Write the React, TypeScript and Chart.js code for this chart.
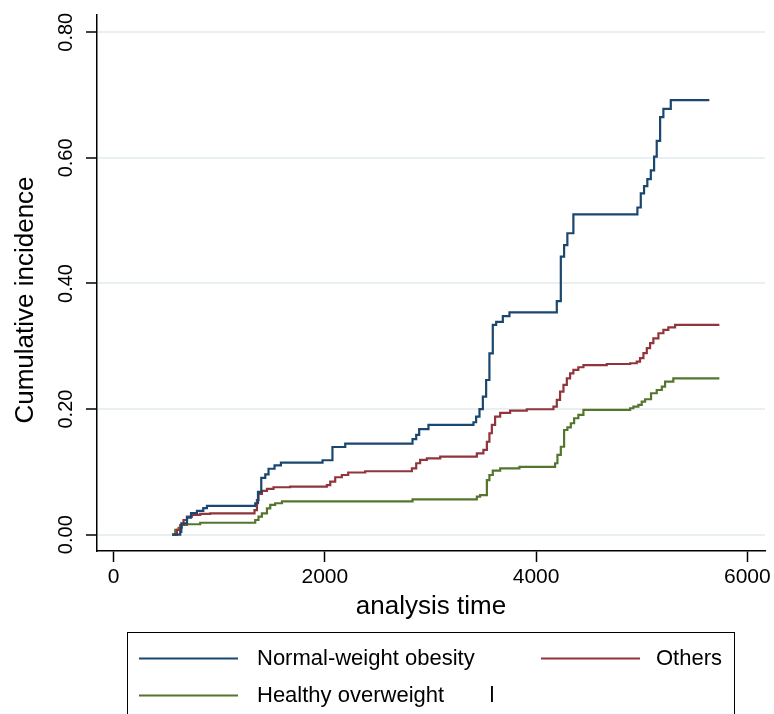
import React, { useEffect, useRef } from "react";
import { Chart, registerables } from "chart.js";

Chart.register(...registerables);

// ---- data ----
const seriesLabels = ["Normal-weight obesity", "Others", "Healthy overweight"];
const seriesColors = ["#1a476f", "#90353b", "#55752f"];

const nwoTime = [555, 631, 641, 695, 733, 789, 849, 884, 1341, 1367, 1398, 1436, 1467, 1524, 1584, 1978, 2072, 2193, 2830, 2865, 2893, 2981, 3407, 3432, 3464, 3496, 3527, 3558, 3590, 3622, 3685, 3748, 4196, 4234, 4265, 4296, 4353, 4959, 4991, 5022, 5053, 5086, 5117, 5142, 5174, 5205, 5275, 5640];
const nwoInc = [0, 0.0043, 0.018, 0.0273, 0.0343, 0.038, 0.0423, 0.0457, 0.05, 0.068, 0.0905, 0.096, 0.105, 0.1104, 0.1147, 0.1185, 0.1396, 0.1449, 0.152, 0.159, 0.168, 0.1747, 0.179, 0.188, 0.2, 0.2197, 0.2463, 0.2888, 0.334, 0.339, 0.348, 0.354, 0.372, 0.4427, 0.461, 0.48, 0.51, 0.521, 0.5436, 0.555, 0.566, 0.58, 0.602, 0.627, 0.665, 0.678, 0.692, 0.692];

const othTime = [553, 600, 631, 662, 695, 742, 820, 915, 1334, 1357, 1372, 1404, 1452, 1514, 1672, 2019, 2051, 2098, 2161, 2221, 2382, 2824, 2865, 2902, 2966, 3092, 3439, 3501, 3534, 3558, 3581, 3612, 3660, 3754, 3912, 4164, 4196, 4227, 4259, 4291, 4322, 4353, 4400, 4448, 4669, 4890, 4953, 4984, 5016, 5048, 5079, 5110, 5158, 5205, 5252, 5316, 5735];
const othInc = [0, 0.0075, 0.0154, 0.0234, 0.0287, 0.0314, 0.033, 0.034, 0.039, 0.055, 0.0648, 0.0696, 0.0728, 0.0755, 0.0764, 0.079, 0.0844, 0.0914, 0.095, 0.099, 0.101, 0.1057, 0.1137, 0.119, 0.1216, 0.1242, 0.1296, 0.1349, 0.148, 0.1615, 0.1747, 0.188, 0.194, 0.1975, 0.1997, 0.204, 0.2145, 0.2277, 0.2384, 0.249, 0.257, 0.2623, 0.2666, 0.27, 0.2718, 0.273, 0.2755, 0.281, 0.289, 0.297, 0.305, 0.3127, 0.3207, 0.326, 0.33, 0.334, 0.334];

const hovTime = [562, 584, 615, 647, 695, 820, 1341, 1372, 1404, 1452, 1483, 1530, 1594, 2830, 3439, 3470, 3534, 3558, 3590, 3660, 3842, 4180, 4202, 4234, 4265, 4296, 4329, 4360, 4400, 4448, 4890, 4921, 4968, 5000, 5032, 5088, 5142, 5190, 5221, 5299, 5735];
const hovInc = [0, 0.0075, 0.011, 0.0154, 0.0166, 0.019, 0.0234, 0.0287, 0.034, 0.042, 0.0473, 0.05, 0.053, 0.0563, 0.0605, 0.063, 0.087, 0.095, 0.102, 0.1057, 0.108, 0.1137, 0.127, 0.14, 0.1667, 0.171, 0.1774, 0.1854, 0.1906, 0.1986, 0.2013, 0.204, 0.2066, 0.2118, 0.2156, 0.2252, 0.2304, 0.2357, 0.2436, 0.249, 0.249];

const xTicks = [0, 2000, 4000, 6000];
const yTicks = [0, 0.2, 0.4, 0.6, 0.8];
const xTitle = "analysis time";
const yTitle = "Cumulative incidence";
const strayMark = "l";

const FONT = "'Liberation Sans', Arial, Helvetica, sans-serif";

function toPoints(t: number[], v: number[]) {
  return t.map((x, i) => ({ x, y: v[i] }));
}

const textPlugin = {
  id: "stataText",
  afterDraw(chart: any) {
    const ctx = chart.ctx as CanvasRenderingContext2D;
    const xs = chart.scales.x;
    const ys = chart.scales.y;
    ctx.save();
    ctx.fillStyle = "#000";
    // y tick labels (rotated)
    ctx.font = `20px ${FONT}`;
    ctx.textAlign = "center";
    ctx.textBaseline = "alphabetic";
    yTicks.forEach((v) => {
      const py = ys.getPixelForValue(v);
      ctx.save();
      ctx.translate(72, py);
      ctx.rotate(-Math.PI / 2);
      ctx.fillText(v.toFixed(2), 0, 0);
      ctx.restore();
    });
    // x tick labels
    ctx.font = `21px ${FONT}`;
    xTicks.forEach((v) => {
      const px = xs.getPixelForValue(v);
      ctx.fillText(String(v), px, 583);
    });
    // titles
    ctx.font = `26px ${FONT}`;
    ctx.fillText(xTitle, (chart.chartArea.left + chart.chartArea.right) / 2, 614);
    ctx.save();
    ctx.translate(33, 300);
    ctx.rotate(-Math.PI / 2);
    ctx.fillText(yTitle, 0, 0);
    ctx.restore();

    // legend
    ctx.strokeStyle = "#000";
    ctx.lineWidth = 1;
    ctx.strokeRect(127.5, 632.5, 607, 200);
    const slots = [
      { l0: 139, l1: 238, ly: 658.5, tx: 257, by: 665 },
      { l0: 541, l1: 640, ly: 658.5, tx: 656, by: 665 },
      { l0: 139, l1: 238, ly: 695.5, tx: 257, by: 702 },
    ];
    ctx.font = `22px ${FONT}`;
    ctx.textAlign = "left";
    chart.data.datasets.forEach((ds: any, i: number) => {
      const s = slots[i];
      ctx.strokeStyle = ds.borderColor;
      ctx.lineWidth = 2.2;
      ctx.beginPath();
      ctx.moveTo(s.l0, s.ly);
      ctx.lineTo(s.l1, s.ly);
      ctx.stroke();
      ctx.fillStyle = "#000";
      ctx.fillText(ds.label, s.tx, s.by);
    });
    ctx.textAlign = "center";
    ctx.fillText(strayMark, 492, 702);
    ctx.restore();
  },
};

export default function App() {
  const ref = useRef<HTMLCanvasElement | null>(null);
  useEffect(() => {
    if (!ref.current) return;
    const series = [
      toPoints(nwoTime, nwoInc),
      toPoints(othTime, othInc),
      toPoints(hovTime, hovInc),
    ];
    const chart = new Chart(ref.current, {
      type: "line",
      data: {
        datasets: series.map((pts, i) => ({
          label: seriesLabels[i],
          data: pts,
          borderColor: seriesColors[i],
          backgroundColor: seriesColors[i],
          borderWidth: 2.2,
          pointRadius: 0,
          stepped: "before" as const,
          fill: false,
          tension: 0,
        })),
      },
      options: {
        animation: false,
        responsive: false,
        devicePixelRatio: 1,
        layout: { padding: { left: 0, top: 15, right: 9, bottom: 123 } },
        plugins: { legend: { display: false }, tooltip: { enabled: false } },
        scales: {
          x: {
            type: "linear",
            min: -157,
            max: 6167,
            afterBuildTicks: (s: any) => {
              s.ticks = xTicks.map((v) => ({ value: v }));
            },
            afterFit: (s: any) => {
              s.height = 40;
            },
            grid: {
              drawOnChartArea: false,
              drawTicks: true,
              tickLength: 11,
              tickColor: "#000",
              tickWidth: 1.5,
            },
            border: { display: true, color: "#000", width: 1.5 },
            ticks: { display: false },
          },
          y: {
            type: "linear",
            min: -0.026,
            max: 0.8275,
            afterBuildTicks: (s: any) => {
              s.ticks = yTicks.map((v) => ({ value: v }));
            },
            afterFit: (s: any) => {
              s.width = 97;
            },
            grid: {
              color: "#e9f0f3",
              lineWidth: 2,
              drawTicks: true,
              tickLength: 11,
              tickColor: "#000",
              tickWidth: 1.5,
            },
            border: { display: true, color: "#000", width: 1.5 },
            ticks: { display: false },
          },
        },
      },
      plugins: [textPlugin],
    });
    return () => chart.destroy();
  }, []);
  return (
    <div style={{ position: "absolute", left: 0, top: 0, width: 774, height: 714, background: "#fff" }}>
      <canvas ref={ref} width={774} height={714} style={{ display: "block", width: 774, height: 714 }} />
    </div>
  );
}
